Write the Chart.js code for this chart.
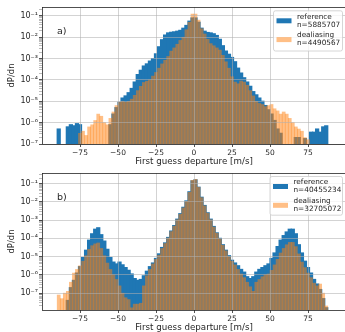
<!DOCTYPE html>
<html>
<head>
<meta charset="utf-8">
<script src="https://cdn.jsdelivr.net/npm/chart.js@4.4.0/dist/chart.umd.min.js"></script>
<style>
  html, body { margin: 0; padding: 0; background: #fff; overflow: hidden; }
  canvas { display: block; }
</style>
</head>
<body>
<canvas id="chartA" width="347" height="166"></canvas>
<canvas id="chartB" width="347" height="166"></canvas>
<script>
// histogram bins are 2 m/s wide, centres -99 ... 99
const binCenters = Array.from({ length: 100 }, (_, i) => -99 + 2 * i);
const xTicks = [-75, -50, -25, 0, 25, 50, 75];

// values as log10(dP/dn), null = empty bin
// panel a)
const refA = [
  null, null, null, null, null, -6.3, null, null, -6.2, -6.1,
  -6.15, -6.05, -6.1, null, null, null, null, null, null, null,
  null, null, -6.1, -5.6, -5.3, -5.05, -4.85, -4.75, -4.6, -4.4,
  -4.1, -3.75, -3.55, -3.35, -3.25, -3.12, -3.0, -2.78, -2.45, -2.12,
  -1.9, -1.8, -1.77, -1.75, -1.72, -1.68, -1.58, -1.45, -1.25, -1.1,
  -1.1, -1.3, -1.58, -1.72, -1.78, -1.8, -1.84, -1.92, -2.1, -2.4,
  -2.65, -2.8, -2.95, -3.15, -3.45, -3.68, -3.9, -4.1, -4.3, -4.55,
  -4.7, -4.85, -5.0, -5.2, -5.4, -5.6, -5.9, -6.3, -6.5, null,
  null, null, null, -6.7, -6.7, null, -6.75, null, -6.45, -6.45,
  -6.3, -6.45, -6.2, -6.15, null, null, null, null, null, null
];
const dealA = [
  null, null, null, null, null, null, null, null, null, null,
  null, null, -6.5, -6.4, -6.6, -6.2, -6.1, -5.9, -5.6, -5.7,
  -6.0, -6.1, -5.8, -5.5, -5.2, -5.05, -5.0, -5.05, -5.0, -4.9,
  -4.72, -4.5, -4.3, -4.12, -4.06, -4.0, -3.82, -3.65, -3.45, -3.25,
  -3.08, -2.9, -2.65, -2.5, -2.33, -2.15, -2.0, -1.65, -1.3, -0.92,
  -0.92, -1.2, -1.6, -1.85, -2.1, -2.3, -2.4, -2.5, -2.6, -2.85,
  -3.15, -3.45, -3.85, -4.1, -4.18, -4.05, -4.1, -4.25, -4.5, -4.75,
  -5.0, -5.1, -5.15, -5.25, -5.2, -5.15, -5.35, -5.45, -5.6, -5.5,
  -5.6, -5.8, -6.0, -6.2, -6.3, -6.4, -6.7, -6.8, null, null,
  null, null, null, null, null, null, null, null, null, null
];
// panel b)
const refB = [
  null, null, null, null, null, null, null, null, -7.4, -6.7,
  -6.3, -5.9, -5.55, -5.05, -4.65, -4.1, -3.75, -3.5, -3.42, -3.8,
  -4.15, -4.6, -5.05, -5.3, -5.4, -5.3, -5.45, -5.6, -5.75, -5.95,
  -6.2, -6.3, -6.25, -6.05, -5.8, -5.55, -5.35, -5.1, -4.85, -4.5,
  -4.25, -3.95, -3.6, -3.3, -2.95, -2.65, -2.3, -1.95, -1.45, -0.85,
  -0.8, -1.2, -1.75, -2.2, -2.6, -2.95, -3.35, -3.7, -4.0, -4.35,
  -4.65, -4.95, -5.2, -5.35, -5.5, -5.7, -5.85, -6.1, -6.2, -6.1,
  -5.85, -5.7, -5.6, -5.5, -5.4, -5.1, -4.8, -4.45, -4.1, -3.85,
  -3.65, -3.5, -3.5, -3.75, -4.35, -4.8, -5.25, -5.6, -5.9, -6.25,
  -6.5, -6.8, -7.3, -7.8, null, null, null, null, null, null
];
const dealB = [
  null, null, null, null, null, -7.1, -7.3, -7.0, -6.9, -6.4,
  -5.9, -5.7, -5.5, -5.25, -4.95, -4.6, -4.4, -4.3, -4.25, -4.55,
  -4.95, -5.35, -5.7, -6.0, -6.25, -6.6, -7.0, -7.25, -7.35, -7.8,
  -7.6, -7.6, -7.55, -6.6, -6.05, -5.7, -5.4, -5.15, -4.92, -4.55,
  -4.28, -3.98, -3.63, -3.33, -2.98, -2.68, -2.33, -1.98, -1.48, -0.82,
  -0.77, -1.2, -1.77, -2.22, -2.62, -2.98, -3.38, -3.72, -4.03, -4.38,
  -4.68, -5.0, -5.25, -5.45, -5.7, -5.95, -6.15, -6.4, -6.65, -6.9,
  -6.4, -6.25, -6.1, -6.0, -5.95, -5.75, -5.45, -5.15, -4.8, -4.55,
  -4.35, -4.22, -4.22, -4.45, -4.85, -5.3, -5.6, -5.9, -6.15, -6.45,
  -6.6, -6.5, -7.0, -7.7, null, null, null, null, null, null
];

const FONT = "'DejaVu Sans', sans-serif";
const INK = '#262626';
const BLUE = '#1f77b4';
const ORANGE = 'rgba(255,127,14,0.5)';
const GRID = 'rgba(176,176,176,0.7)';

const SUP = { '-': '\u207B', '0': '\u2070', '1': '\u00B9', '2': '\u00B2', '3': '\u00B3',
  '4': '\u2074', '5': '\u2075', '6': '\u2076', '7': '\u2077', '8': '\u2078', '9': '\u2079' };

function isDecade(v) {
  const e = Math.log10(v);
  return Math.abs(e - Math.round(e)) < 1e-6;
}
function powLabel(v) {
  const e = Math.round(Math.log10(v));
  return '10' + String(e).split('').map(c => SUP[c]).join('');
}
function toPoints(logs) {
  return logs.map((e, i) => ({ x: binCenters[i], y: e === null ? null : Math.pow(10, e) }));
}

// spines, panel letter and the legend box
const decorPlugin = {
  id: 'decor',
  afterDraw(chart, args, opts) {
    const { ctx, chartArea: a } = chart;
    ctx.save();
    ctx.strokeStyle = INK;
    ctx.lineWidth = 0.8;
    ctx.strokeRect(Math.round(a.left) + 0.5, Math.round(a.top) + 0.5,
      Math.round(a.right - a.left) - 1, Math.round(a.bottom - a.top));

    ctx.fillStyle = INK;
    ctx.font = `9.5px ${FONT}`;
    ctx.textBaseline = 'middle';
    ctx.fillText(opts.label, a.left + 15, a.top + 25);

    const L = opts.legend;
    ctx.beginPath();
    ctx.roundRect(L.left + 0.5, L.top + 0.5, L.right - L.left, L.bottom - L.top, 2);
    ctx.fillStyle = 'rgba(255,255,255,0.8)';
    ctx.fill();
    ctx.strokeStyle = '#cccccc';
    ctx.stroke();
    L.entries.forEach((en, k) => {
      const y1 = L.top + 6.5 + k * 18.8;
      ctx.fillStyle = en.color;
      ctx.fillRect(L.left + 3.5, y1 + 1.5, 15, 5);
      ctx.fillStyle = INK;
      ctx.font = `7.3px ${FONT}`;
      ctx.fillText(en.name, L.left + 24, y1);
      ctx.fillText(en.n, L.left + 24, y1 + 8);
    });
    ctx.restore();
  }
};

function makeChart(id, label, ref, deal, yMin, yMax, nRef, nDeal, legendBox) {
  const ctx = document.getElementById(id).getContext('2d');
  return new Chart(ctx, {
    type: 'bar',
    data: {
      datasets: [
        // opaque blue bars are widened a touch so no seams show between bins
        { label: 'reference', data: toPoints(ref), backgroundColor: BLUE, order: 1, inflateAmount: 0.6 },
        { label: 'dealiasing', data: toPoints(deal), backgroundColor: ORANGE, order: 0 }
      ]
    },
    options: {
      responsive: false,
      animation: false,
      devicePixelRatio: 1,
      events: [],
      datasets: {
        bar: { grouped: false, barPercentage: 1, categoryPercentage: 1, borderWidth: 0 }
      },
      layout: { padding: { left: 0, right: 1, top: 7, bottom: 0 } },
      plugins: {
        legend: { display: false },
        tooltip: { enabled: false },
        decor: {
          label: label,
          legend: Object.assign({}, legendBox, {
            entries: [
              { name: 'reference', n: nRef, color: BLUE },
              { name: 'dealiasing', n: nDeal, color: ORANGE }
            ]
          })
        }
      },
      scales: {
        x: {
          type: 'linear',
          min: -100,
          max: 100,
          offset: false,
          afterBuildTicks: s => { s.ticks = xTicks.map(v => ({ value: v })); },
          afterFit: s => { s.height = 22; s.paddingLeft = 0; s.paddingRight = 0; },
          grid: { offset: false, z: 1, color: GRID, lineWidth: 0.8, tickLength: 3, tickColor: INK, tickWidth: 0.8 },
          border: { display: false },
          ticks: {
            autoSkip: false, maxRotation: 0, padding: 2, color: INK,
            font: { family: FONT, size: 7.5 },
            callback: v => (v < 0 ? '\u2212' + Math.abs(v) : String(v))
          },
          title: {
            display: true, text: 'First guess departure [m/s]', color: INK,
            font: { family: FONT, size: 8.7 }, padding: { top: 0, bottom: -1 }
          }
        },
        y: {
          type: 'logarithmic',
          min: yMin,
          max: yMax,
          afterBuildTicks: s => {
            const t = [];
            for (let e = -9; e <= 0; e++) {
              for (let m = 1; m < 10; m++) {
                const v = m * Math.pow(10, e);
                if (v >= s.min * 0.999 && v <= s.max) t.push({ value: v });
              }
            }
            s.ticks = t;
          },
          afterFit: s => { s.width = 42; s.paddingTop = 0; s.paddingBottom = 0; },
          grid: {
            z: 1, lineWidth: 0.8, tickLength: 3,
            color: c => (c.tick && isDecade(c.tick.value) ? GRID : 'rgba(0,0,0,0)'),
            tickColor: c => (c.tick && isDecade(c.tick.value) ? INK : '#777'),
            tickWidth: c => (c.tick && isDecade(c.tick.value) ? 0.8 : 0.5)
          },
          border: { display: false },
          ticks: {
            autoSkip: false, padding: 1, color: INK,
            font: { family: FONT, size: 8 },
            callback: v => (isDecade(v) ? powLabel(v) : '')
          },
          title: {
            display: true, text: 'dP/dn', color: INK,
            font: { family: FONT, size: 8.5 }, padding: { top: 7, bottom: 0 }
          }
        }
      }
    },
    plugins: [decorPlugin]
  });
}

makeChart('chartA', 'a)', refA, dealA, 1e-7, 0.26, 'n=5885707', 'n=4490567',
  { left: 273, right: 342, top: 10.3, bottom: 50.5 });
makeChart('chartB', 'b)', refB, dealB, 1.2e-8, 0.38, 'n=40455234', 'n=32705072',
  { left: 269.5, right: 342, top: 10, bottom: 48.7 });
</script>
</body>
</html>
